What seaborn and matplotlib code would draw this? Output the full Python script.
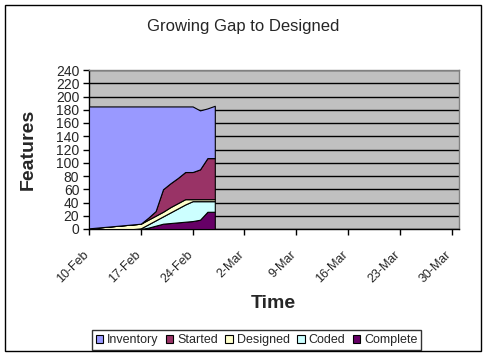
import matplotlib
matplotlib.use("Agg")
import matplotlib.pyplot as plt
import matplotlib.dates as mdates
import matplotlib.transforms as mtransforms
from matplotlib.patches import Rectangle, Patch
import seaborn as sns
import pandas as pd
import numpy as np

# ---- data (daily) ----
dates = pd.date_range("2004-02-10", "2004-02-27", freq="D")
complete = [0, 0, 0, 0, 0, 0, 0, 0, 2, 5, 8, 9, 10, 11, 12, 14, 26, 26]
coded = [0, 0, 0, 0, 0, 0, 0, 1, 5, 8, 11, 16, 21, 26, 30, 28, 16, 16]
designed = [1, 2, 3, 4, 5, 6, 7, 7, 7, 7, 7, 8, 8, 8, 3, 3, 3, 3]
started = [0, 0, 0, 0, 0, 0, 0, 0, 3, 7, 34, 36, 38, 41, 41, 45, 62, 62]
inventory = [184, 183, 182, 181, 180, 179, 178, 177, 168, 158, 125, 116, 108, 99, 99, 89, 75, 79]

series_names = ["Complete", "Coded", "Designed", "Started", "Inventory"]
legend_order = ["Inventory", "Started", "Designed", "Coded", "Complete"]
colors = {"Inventory": "#9999FF", "Started": "#993366", "Designed": "#FFFFCC",
          "Coded": "#CCFFFF", "Complete": "#660066"}

tick_dates = pd.date_range("2004-02-10", "2004-03-30", freq="7D")
yticks = list(range(0, 241, 20))

df = pd.DataFrame({"Date": dates, "Complete": complete, "Coded": coded,
                   "Designed": designed, "Started": started, "Inventory": inventory})

sns.set_style("white")
plt.rcParams["font.family"] = ["Liberation Sans", "DejaVu Sans"]

W, H = 488, 357
fig = plt.figure(figsize=(W / 100, H / 100), dpi=100)
ax = fig.add_axes([89 / W, 1 - 229 / H, (459 - 89) / W, (229 - 70) / H])
ax.set_facecolor("#C0C0C0")

ax.stackplot(df["Date"], *[df[n] for n in series_names],
             colors=[colors[n] for n in series_names],
             edgecolor="black", linewidth=0.8, zorder=3)

ax.set_ylim(0, 240)
ax.set_yticks(yticks)
ax.set_xlim(pd.Timestamp("2004-02-10"), pd.Timestamp("2004-03-31"))
ax.set_xticks(tick_dates)
ax.xaxis.set_major_formatter(mdates.DateFormatter("%-d-%b"))
ax.yaxis.grid(True, color="black", linewidth=1)
ax.xaxis.grid(False)
ax.set_axisbelow(True)

for s in ["left", "bottom"]:
    ax.spines[s].set_color("black")
    ax.spines[s].set_linewidth(1)
for s in ["top", "right"]:
    ax.spines[s].set_color("#808080")
    ax.spines[s].set_linewidth(1)

ax.tick_params(axis="both", direction="out", length=4, width=1, color="black",
               labelsize=10, pad=3)
ax.tick_params(axis="y", left=True)
ax.tick_params(axis="x", bottom=True, labelsize=9)
shift = mtransforms.ScaledTranslation(-6 / 100, -10 / 100, fig.dpi_scale_trans)
for lbl in ax.get_xticklabels():
    lbl.set_rotation(45)
    lbl.set_ha("right")
    lbl.set_rotation_mode("anchor")
    lbl.set_transform(lbl.get_transform() + shift)

fig.text(243 / W, 1 - 27 / H, "Growing Gap to Designed", ha="center", va="center",
         fontsize=12)
fig.text(28 / W, 1 - 149 / H, "Features", ha="center", va="center", rotation=90,
         fontsize=14, fontweight="bold")
fig.text(273 / W, 1 - 304 / H, "Time", ha="center", va="center",
         fontsize=14, fontweight="bold")

handles = [Patch(facecolor=colors[n], edgecolor="black", linewidth=0.8) for n in legend_order]
leg = fig.legend(handles, legend_order, loc="center", bbox_to_anchor=(256.5 / W, 1 - 340 / H),
                 ncol=5, fontsize=9, frameon=True, fancybox=False, shadow=False,
                 handlelength=0.6, handleheight=0.6, handletextpad=0.3,
                 columnspacing=0.6, borderpad=0.3, borderaxespad=0)
leg.get_frame().set_edgecolor("black")
leg.get_frame().set_linewidth(1)

fig.patches.append(Rectangle((5 / W, 6 / H), 476 / W, 346 / H, transform=fig.transFigure,
                             fill=False, edgecolor="black", linewidth=1))

fig.savefig("out.png", dpi=100)
